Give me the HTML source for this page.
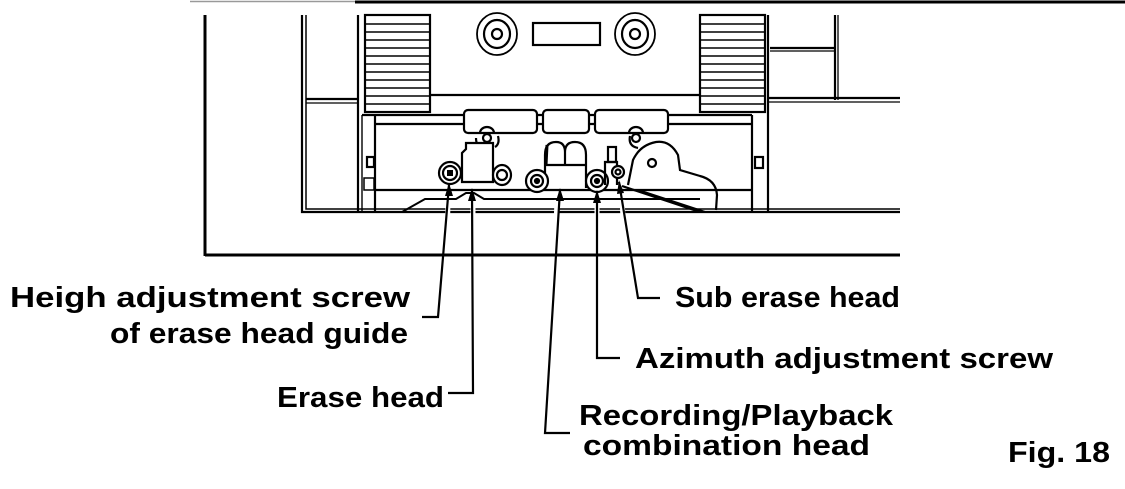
<!DOCTYPE html>
<html><head><meta charset="utf-8"><style>
html,body{margin:0;padding:0;background:#fff;}
svg{display:block;}
text{font-family:"Liberation Sans",Arial,sans-serif;font-weight:bold;font-size:29px;fill:#000;}
</style></head><body>
<svg width="1125" height="489" viewBox="0 0 1125 489" xmlns="http://www.w3.org/2000/svg">
<g fill="none" stroke="#000" stroke-width="2.2">
<line x1="190" y1="1.5" x2="355" y2="1.5" stroke="#999" stroke-width="1.5"/>
<line x1="355" y1="2" x2="1125" y2="2" stroke-width="3"/>
<line x1="205" y1="15" x2="205" y2="256" stroke-width="3"/>
<line x1="205" y1="255" x2="900" y2="255" stroke-width="3"/>
<path d="M302 15 V212 H900"/>
<path d="M306 15 V209 H900" stroke-width="1.5"/>
<line x1="306" y1="99" x2="358" y2="99"/>
<line x1="306" y1="103" x2="358" y2="103" stroke-width="1.3"/>
<line x1="358" y1="15" x2="358" y2="212"/>
<line x1="362" y1="115" x2="362" y2="212" stroke-width="1.4"/>
<line x1="375" y1="115" x2="375" y2="212"/>
<rect x="367" y="157" width="7" height="10"/>
<rect x="364" y="178" width="10" height="12" stroke-width="1.5"/>
<rect x="365" y="15" width="65" height="97"/>
<g stroke-width="1.6">
<line x1="366" y1="24" x2="430" y2="24"/><line x1="366" y1="32" x2="430" y2="32"/>
<line x1="366" y1="40" x2="430" y2="40"/><line x1="366" y1="48" x2="430" y2="48"/>
<line x1="366" y1="56" x2="430" y2="56"/><line x1="366" y1="64" x2="430" y2="64"/>
<line x1="366" y1="72" x2="430" y2="72"/><line x1="366" y1="80" x2="430" y2="80"/>
<line x1="366" y1="88" x2="430" y2="88"/><line x1="366" y1="96" x2="430" y2="96"/>
<line x1="366" y1="104" x2="430" y2="104"/>
</g>
<rect x="700" y="15" width="65" height="97"/>
<g stroke-width="1.6">
<line x1="701" y1="24" x2="765" y2="24"/><line x1="701" y1="32" x2="765" y2="32"/>
<line x1="701" y1="40" x2="765" y2="40"/><line x1="701" y1="48" x2="765" y2="48"/>
<line x1="701" y1="56" x2="765" y2="56"/><line x1="701" y1="64" x2="765" y2="64"/>
<line x1="701" y1="72" x2="765" y2="72"/><line x1="701" y1="80" x2="765" y2="80"/>
<line x1="701" y1="88" x2="765" y2="88"/><line x1="701" y1="96" x2="765" y2="96"/>
<line x1="701" y1="104" x2="765" y2="104"/>
</g>
<line x1="768" y1="15" x2="768" y2="212"/>
<line x1="752" y1="115" x2="752" y2="212"/>
<rect x="755" y="157" width="8" height="11"/>
<line x1="835" y1="15" x2="835" y2="100"/>
<line x1="838" y1="15" x2="838" y2="100" stroke-width="1.3"/>
<line x1="770" y1="48" x2="835" y2="48"/>
<line x1="770" y1="51" x2="835" y2="51" stroke-width="1.2"/>
<line x1="768" y1="98" x2="900" y2="98"/>
<line x1="768" y1="102" x2="900" y2="102" stroke-width="1.3"/>
<line x1="430" y1="95" x2="700" y2="95"/>
<line x1="362" y1="115" x2="752" y2="115"/>
<line x1="375" y1="124" x2="752" y2="124"/>
<ellipse cx="497" cy="34" rx="20" ry="21" stroke-width="1.8"/>
<ellipse cx="497" cy="34" rx="13" ry="14"/>
<circle cx="497" cy="34" r="5"/>
<ellipse cx="635" cy="34" rx="20" ry="21" stroke-width="1.8"/>
<ellipse cx="635" cy="34" rx="13" ry="14"/>
<circle cx="635" cy="34" r="5"/>
<rect x="533" y="23" width="67" height="22"/>
<rect x="464" y="110" width="73" height="23" rx="4" fill="#fff"/>
<rect x="543" y="110" width="46" height="23" rx="4" fill="#fff"/>
<rect x="595" y="110" width="73" height="23" rx="4" fill="#fff"/>
<path d="M480 133 a7 6 0 0 1 14 0"/>
<path d="M629 133 a7 6 0 0 1 14 0"/>
<circle cx="487" cy="138" r="4"/>
<circle cx="636" cy="138" r="4"/>
<path d="M476 138 q0 8 6 10"/><path d="M498 136 q2 8 -3 11"/>
<path d="M630 136 q-2 10 8 12"/>
<line x1="375" y1="190" x2="752" y2="190"/>
<path d="M402 212 L425 199 H456 L466 193 H474 L484 199 H700" stroke-width="2"/>
<!-- erase head -->
<path d="M462 182 V153 L466 149 V143 H493 V182 Z" fill="#fff"/>
<circle cx="450" cy="173" r="11" fill="#fff"/>
<circle cx="450" cy="173" r="7"/>
<rect x="447" y="170" width="6" height="6" fill="#000" stroke="none"/>
<ellipse cx="502" cy="175" rx="9" ry="10" fill="#fff"/>
<circle cx="502" cy="175" r="5"/>
<path d="M545 188 V155 Q545 142 556 142 Q565 142 565 152 Q565 142 575 142 Q586 142 586 155 V188" fill="#fff"/>
<line x1="565" y1="152" x2="565" y2="165"/>
<line x1="545" y1="165" x2="586" y2="165"/>
<line x1="547" y1="145" x2="546" y2="165" stroke-width="3"/>
<circle cx="537" cy="181" r="11" fill="#fff"/>
<circle cx="537" cy="181" r="6"/>
<circle cx="537" cy="181" r="2" fill="#000"/>
<circle cx="597" cy="181" r="11" fill="#fff"/>
<circle cx="597" cy="181" r="6"/>
<circle cx="597" cy="181" r="2" fill="#000"/>
<rect x="608" y="147" width="8" height="15"/>
<path d="M605 185 V162 H617 V185"/>
<circle cx="618" cy="172" r="6" fill="#fff"/>
<circle cx="618" cy="172" r="2.5"/>
<path d="M628 185 L633 160 Q640 145 656 142 Q670 140 678 155 L680 170 L700 176 Q716 180 717 195 L716 210"/>
<circle cx="652" cy="163" r="4"/>
<path d="M622 186 L700 212"/>
<path d="M638 190 L705 212"/>
<g stroke="#fff" stroke-width="5">
<line x1="448" y1="200" x2="447" y2="252"/><line x1="473" y1="200" x2="473" y2="252"/>
<line x1="557" y1="200" x2="555" y2="252"/><line x1="597" y1="200" x2="597" y2="252"/>
<line x1="622" y1="200" x2="625" y2="252"/>
</g>
<g stroke-width="2.2">
<path d="M449 185 L438 317 H422"/>
<path d="M472 190 L473 393 H448"/>
<path d="M560 190 L545 433 H570"/>
<path d="M597 192 V358 H620"/>
<path d="M619 182 L638 298 H660"/>
</g>
</g>
<g fill="#000">
<polygon points="449,183 445,196 453,196"/>
<polygon points="472,188 468,201 476,201"/>
<polygon points="560,188 556,201 564,201"/>
<polygon points="597,190 593,203 601,203"/>
<polygon points="619,180 617,194 624,193"/>
</g>
<text x="10" y="307" textLength="400" lengthAdjust="spacingAndGlyphs">Heigh adjustment screw</text>
<text x="110" y="343" textLength="298" lengthAdjust="spacingAndGlyphs">of erase head guide</text>
<text x="277" y="407" textLength="167" lengthAdjust="spacingAndGlyphs">Erase head</text>
<text x="675" y="307" textLength="225" lengthAdjust="spacingAndGlyphs">Sub erase head</text>
<text x="635" y="368" textLength="418" lengthAdjust="spacingAndGlyphs">Azimuth adjustment screw</text>
<text x="579" y="425" textLength="314" lengthAdjust="spacingAndGlyphs">Recording/Playback</text>
<text x="583" y="455" textLength="287" lengthAdjust="spacingAndGlyphs">combination head</text>
<text x="1008" y="462" textLength="102" lengthAdjust="spacingAndGlyphs">Fig. 18</text>
</svg>
</body></html>
